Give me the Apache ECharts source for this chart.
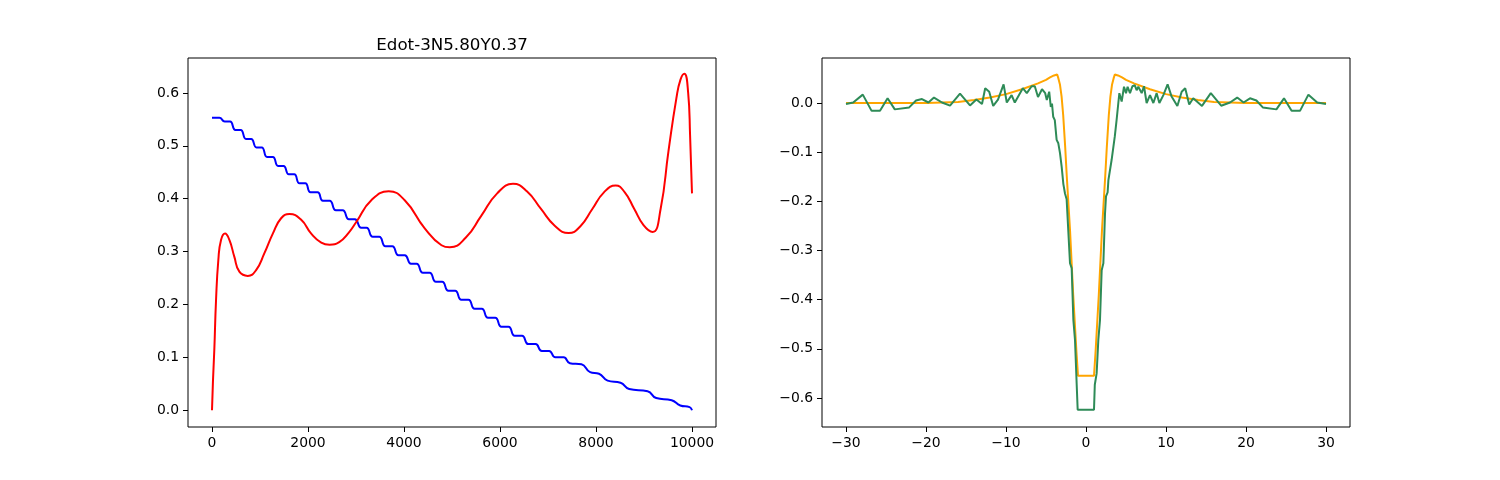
<!DOCTYPE html>
<html>
<head>
<meta charset="utf-8">
<script src="https://cdn.jsdelivr.net/npm/echarts@6/dist/echarts.min.js"></script>
<style>
html,body{margin:0;padding:0;background:#fff;}
#chart{width:1500px;height:480px;}
</style>
</head>
<body>
<div id="chart"></div>
<script>
// ---- Left panel data ----
const chartTitle = 'Edot-3N5.80Y0.37';
const leftXTicks = [0, 2000, 4000, 6000, 8000, 10000];
const leftYTicks = [0.0, 0.1, 0.2, 0.3, 0.4, 0.5, 0.6];

const blueX = [0, 154, 264, 377, 487, 598, 708, 816, 926, 1037, 1147, 1267, 1377, 1490, 1600,
  1713, 1823, 1943, 2053, 2200, 2310, 2451, 2581, 2722, 2852, 2977, 3107, 3219, 3349,
  3484, 3614, 3755, 3885, 4016, 4146, 4263, 4393, 4534, 4664, 4795, 4925, 5065, 5195,
  5342, 5472, 5620, 5750, 5900, 6030, 6177, 6307, 6459, 6589, 6741, 6871, 7023, 7153,
  7325, 7455, 7697, 7877, 8062, 8242, 8511, 8691, 9075, 9255, 9576, 9756, 9950, 10000];
const blueY = [0.553, 0.553, 0.546, 0.546, 0.530, 0.530, 0.513, 0.513, 0.497, 0.497, 0.479, 0.479, 0.462, 0.462, 0.446,
  0.446, 0.429, 0.429, 0.412, 0.412, 0.396, 0.396, 0.378, 0.378, 0.361, 0.361, 0.345, 0.345, 0.328,
  0.328, 0.310, 0.310, 0.293, 0.293, 0.277, 0.277, 0.260, 0.260, 0.243, 0.243, 0.226, 0.226, 0.209,
  0.209, 0.192, 0.192, 0.175, 0.175, 0.158, 0.158, 0.141, 0.141, 0.125, 0.125, 0.112, 0.112, 0.100,
  0.100, 0.089, 0.087, 0.072, 0.069, 0.056, 0.052, 0.040, 0.036, 0.023, 0.019, 0.009, 0.006, 0.000];

const redX = [0, 20, 48, 84, 132, 188, 271, 362, 466, 570, 745, 919, 1092, 1267, 1440, 1614, 1858,
  2067, 2276, 2450, 2650, 2850, 3006, 3319, 3681, 4015, 4432, 4781, 4955, 5284, 5612, 5941, 6270,
  6560, 6850, 7140, 7430, 7675, 7920, 8165, 8410, 8600, 8795, 8990, 9180, 9345, 9510, 9675,
  9760, 9840, 9920, 9960, 10000];
const redY = [0, 0.055, 0.114, 0.208, 0.284, 0.322, 0.334, 0.322, 0.290, 0.262, 0.254, 0.265, 0.297, 0.334, 0.363, 0.371, 0.360,
  0.334, 0.317, 0.313, 0.318, 0.336, 0.356, 0.397, 0.414, 0.397, 0.344, 0.312, 0.308, 0.326, 0.368, 0.410, 0.428,
  0.414, 0.381, 0.349, 0.335, 0.348, 0.380, 0.412, 0.425, 0.412, 0.381, 0.350, 0.337, 0.380, 0.490, 0.590,
  0.625, 0.636, 0.600, 0.520, 0.410];

// ---- Right panel data ----
const rightXTicks = [-30, -20, -10, 0, 10, 20, 30];
const rightYTicks = [-0.6, -0.5, -0.4, -0.3, -0.2, -0.1, 0.0];

const orangeX = [-30, -20, -18, -16, -14, -12, -10, -8, -6, -5, -4.5, -4, -3.6, -3.45, -3.25, -3.05, -2.85, -2.6, -2.4, -2.0, -1.6, -1.2, -1.0,
  1.0, 1.2, 1.6, 2.0, 2.4, 2.6, 2.85, 3.05, 3.25, 3.45, 3.6, 4, 4.5, 5, 6, 8, 10, 12, 14, 16, 18, 20, 30];
const orangeY = [0, 0, 0.001, 0.002, 0.006, 0.011, 0.018, 0.028, 0.040, 0.047, 0.052, 0.056, 0.058, 0.050, 0.037, 0.013, -0.025, -0.090, -0.150, -0.258, -0.390, -0.505, -0.555,
  -0.555, -0.505, -0.390, -0.258, -0.150, -0.090, -0.025, 0.013, 0.037, 0.050, 0.058, 0.056, 0.052, 0.047, 0.040, 0.028, 0.018, 0.011, 0.006, 0.002, 0.001, 0, 0];

const greenX = [-30, -29.1, -27.9, -26.8, -25.75, -24.8, -23.9, -22.1, -21.25, -20.5, -19.7, -19.0, -18.0, -17.0, -15.75,
  -14.5, -13.7, -13.0, -12.6, -12.1, -11.6, -11.0, -10.3, -9.9, -9.3, -8.9, -7.9, -7.4, -6.8, -6.4, -6.0, -5.5, -5.1,
  -4.9, -4.6, -4.4, -4.25, -4.1, -3.9, -3.67, -3.46, -3.25, -3.04, -2.83, -2.625, -2.42, -2.0, -1.79, -1.58, -1.375,
  -1.17, -1.04, 1.0, 1.1, 1.33, 1.54, 1.75, 1.96, 2.17, 2.375, 2.5, 2.7, 2.8, 3.2, 3.6, 3.83, 4.04, 4.17, 4.46, 4.75,
  5.0, 5.2, 5.5, 5.8, 6.1, 6.33, 6.54, 6.96, 7.25, 7.58, 8.0, 8.42, 8.83, 9.17, 9.67, 10.2, 10.7, 11.42, 11.96, 12.4,
  12.9, 13.4, 14.5, 15.6, 16.9, 18.0, 18.9, 19.7, 20.5, 21.3, 22.1, 23.8, 24.75, 25.7, 26.75, 27.8, 28.9, 30.0];
const greenY = [-0.002, 0.001, 0.017, -0.016, -0.016, 0.0095, -0.013, -0.009, 0.005, 0.008, 0.001, 0.011, 0.001, -0.0055, 0.019,
  -0.005, 0.007, -0.002, 0.030, 0.023, -0.006, 0.007, 0.038, 0.001, 0.016, 0.001, 0.030, 0.020, 0.034, 0.034, 0.012, 0.028, 0.020,
  0.006, 0.023, -0.008, -0.001, -0.028, -0.035, -0.075, -0.082, -0.102, -0.130, -0.165, -0.184, -0.196, -0.326, -0.336, -0.441, -0.482,
  -0.570, -0.624, -0.624, -0.573, -0.550, -0.482, -0.441, -0.340, -0.326, -0.225, -0.190, -0.182, -0.157, -0.116, -0.068, -0.034, 0.000, 0.020, 0.003, 0.033,
  0.020, 0.033, 0.020, 0.034, 0.036, 0.026, 0.033, 0.020, 0.034, 0.000, 0.016, 0.000, 0.020, 0.000, 0.016, 0.038, 0.013, -0.006, 0.023, 0.030,
  -0.003, 0.0095, -0.006, 0.020, -0.0055, 0.001, 0.011, 0.001, 0.0095, 0.005, -0.009, -0.013, 0.0095, -0.016, -0.016, 0.017, 0.001, -0.002];

const zip = (xs, ys) => xs.map((x, i) => [x, ys[i]]);
const FONT = 'DejaVu Sans';
const minus = s => String(s).replace('-', '\u2212');

function axisCommon(ticks, fmt) {
  return {
    type: 'value',
    axisLine: { show: false, onZero: false },
    splitLine: { show: false },
    axisTick: { show: true, inside: false, length: 5, customValues: ticks, lineStyle: { color: '#000', width: 1 } },
    axisLabel: { show: true, customValues: ticks, color: '#000', fontFamily: FONT, fontSize: 13.9, margin: 9, formatter: fmt }
  };
}

const chart = echarts.init(document.getElementById('chart'), null, { renderer: 'canvas' });
const gridStyle = { show: true, borderColor: '#000', borderWidth: 1, backgroundColor: 'transparent', containLabel: false };

chart.setOption({
  animation: false,
  backgroundColor: '#fff',
  title: {
    text: chartTitle,
    left: 447, top: 32, textAlign: 'center',
    textStyle: { fontFamily: FONT, fontSize: 16.7, fontWeight: 'normal', color: '#000' }
  },
  grid: [
    Object.assign({ left: 188, top: 58, width: 528, height: 369 }, gridStyle),
    Object.assign({ left: 822, top: 58, width: 528, height: 369 }, gridStyle)
  ],
  xAxis: [
    Object.assign(axisCommon(leftXTicks, v => String(Math.round(v))), { gridIndex: 0, min: -500, max: 10500 }),
    Object.assign(axisCommon(rightXTicks, v => minus(Math.round(v))), { gridIndex: 1, min: -33, max: 33 })
  ],
  yAxis: [
    Object.assign(axisCommon(leftYTicks, v => minus(v.toFixed(1))), { gridIndex: 0, min: -0.0317, max: 0.666 }),
    Object.assign(axisCommon(rightYTicks, v => minus(v.toFixed(1))), { gridIndex: 1, min: -0.659, max: 0.0915 })
  ],
  series: [
    { type: 'line', xAxisIndex: 0, yAxisIndex: 0, data: zip(blueX, blueY), showSymbol: false, symbol: 'none',
      lineStyle: { color: '#0000ff', width: 2 }, smooth: 0.5 },
    { type: 'line', xAxisIndex: 0, yAxisIndex: 0, data: zip(redX, redY), showSymbol: false, symbol: 'none',
      lineStyle: { color: '#ff0000', width: 2 }, smooth: 0.5 },
    { type: 'line', xAxisIndex: 1, yAxisIndex: 1, data: zip(orangeX, orangeY), showSymbol: false, symbol: 'none',
      lineStyle: { color: '#ffa500', width: 2 } },
    { type: 'line', xAxisIndex: 1, yAxisIndex: 1, data: zip(greenX, greenY), showSymbol: false, symbol: 'none',
      lineStyle: { color: '#2e8b57', width: 2 } }
  ]
});
</script>
</body>
</html>
